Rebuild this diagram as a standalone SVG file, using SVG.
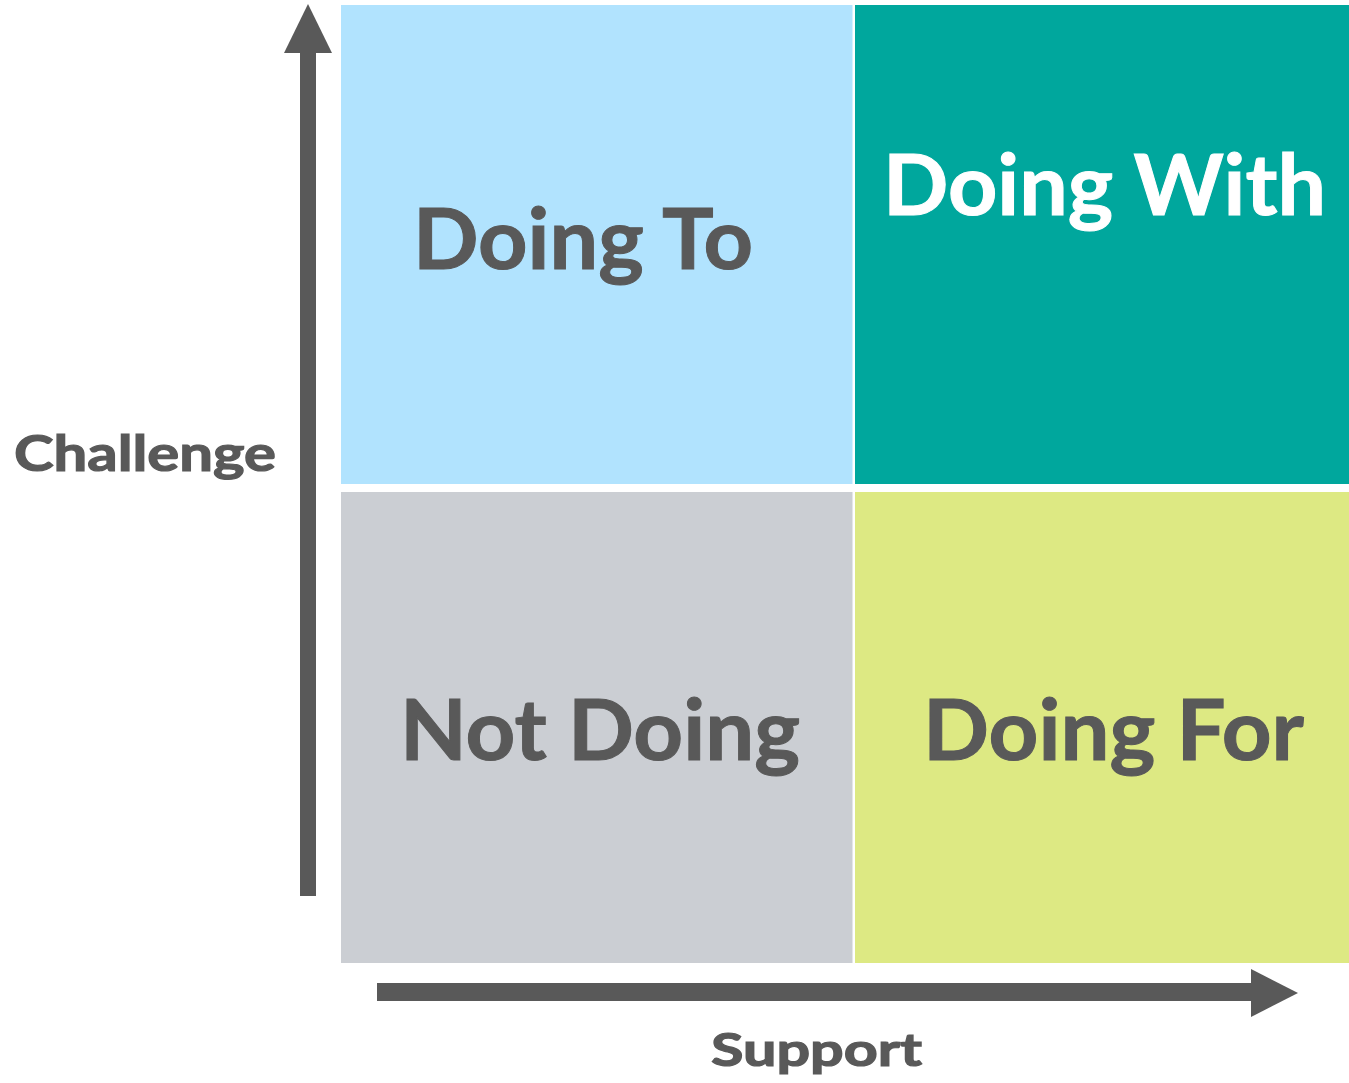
<svg xmlns="http://www.w3.org/2000/svg" width="1349" height="1083" viewBox="0 0 1349 1083">
  <style>
    .lbl { font-family: Lato, "Open Sans", "Liberation Sans", sans-serif; font-weight: bold; fill: #595959; }
    .big { font-size: 84px; stroke: #595959; stroke-width: 1; }
    .axis { font-size: 49px; stroke: #595959; stroke-width: 1.2; }
    .ax { fill: #595959; }
  </style>
  <rect width="1349" height="1083" fill="#ffffff"/>
  <g id="doing-to">
    <rect x="341" y="5" width="511.5" height="479" fill="#B1E3FE"/>
    <text class="lbl big" x="413" y="269" textLength="340" lengthAdjust="spacingAndGlyphs">Doing To</text>
  </g>
  <g id="doing-with">
    <rect x="855" y="5" width="494" height="479" fill="#00A79D"/>
    <text class="lbl big" x="883" y="215" textLength="443" lengthAdjust="spacingAndGlyphs" style="fill:#ffffff;stroke:#ffffff">Doing With</text>
  </g>
  <g id="not-doing">
    <rect x="341" y="492" width="511.5" height="471" fill="#CBCED3"/>
    <text class="lbl big" x="400" y="760" textLength="400" lengthAdjust="spacingAndGlyphs">Not Doing</text>
  </g>
  <g id="doing-for">
    <rect x="855" y="492" width="494" height="471" fill="#DDE983"/>
    <text class="lbl big" x="923" y="760" textLength="381" lengthAdjust="spacingAndGlyphs">Doing For</text>
  </g>
  <g id="connectors">
    <g id="axis-challenge">
      <rect class="ax" x="300" y="52" width="16" height="844"/>
      <polygon class="ax" points="284,53 308,4 332,53"/>
    </g>
    <g id="axis-support">
      <rect class="ax" x="377" y="983" width="875" height="18"/>
      <polygon class="ax" points="1251,969 1298,993 1251,1017"/>
    </g>
  </g>
  <g id="labels">
    <text class="lbl axis" x="14" y="471" textLength="262" lengthAdjust="spacingAndGlyphs">Challenge</text>
    <text class="lbl axis" x="711" y="1066" textLength="211" lengthAdjust="spacingAndGlyphs" style="font-size:46px">Support</text>
  </g>
</svg>
